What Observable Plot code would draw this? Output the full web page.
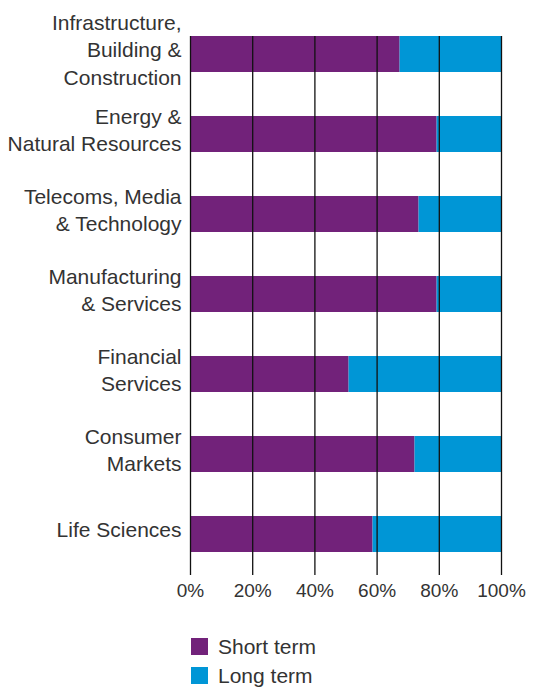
<!DOCTYPE html>
<html>
<head>
<meta charset="utf-8">
<script src="https://cdn.jsdelivr.net/npm/d3@7"></script>
<script src="https://cdn.jsdelivr.net/npm/@observablehq/plot@0.6"></script>
<style>
  body { margin: 0; background: #fff; font-family: "Liberation Sans", Arial, sans-serif; }
  #legend { padding-left: 191px; margin-top: 17px; color: #333; font-size: 21px; }
  .row { height: 29px; display: flex; align-items: center; }
  .sw { width: 17px; height: 17px; margin-right: 10px; }
</style>
</head>
<body>
<div id="chart"></div>
<div id="legend"></div>
<script>
const categories = [
  "Infrastructure,\nBuilding &\nConstruction",
  "Energy &\nNatural Resources",
  "Telecoms, Media\n& Technology",
  "Manufacturing\n& Services",
  "Financial\nServices",
  "Consumer\nMarkets",
  "Life Sciences"
];
const shortTerm = [67.4, 79.3, 73.5, 79.3, 51.0, 72.2, 58.7];
const longTerm  = [32.6, 20.7, 26.5, 20.7, 49.0, 27.8, 41.3];
const seriesNames = ["Short term", "Long term"];
const seriesColors = ["#72227A", "#0096D6"];
const xTicks = [0, 20, 40, 60, 80, 100];

const data = [];
categories.forEach((c, i) => {
  data.push({category: c, series: seriesNames[0], value: shortTerm[i]});
  data.push({category: c, series: seriesNames[1], value: longTerm[i]});
});

const chart = Plot.plot({
  width: 536,
  height: 615,
  marginLeft: 190,
  marginRight: 35,
  marginTop: 36,
  marginBottom: 40,
  style: {fontFamily: "Liberation Sans, Arial, sans-serif", color: "#333", background: "#fff"},
  x: {domain: [0, 100]},
  y: {domain: categories, range: [36, 552], paddingInner: 0.55, paddingOuter: 0},
  color: {domain: seriesNames, range: seriesColors},
  marks: [
    Plot.barX(data, Plot.stackX({y: "category", x: "value", fill: "series", order: seriesNames})),
    Plot.ruleX(xTicks, {stroke: "#111", strokeWidth: 1.3}),
    Plot.axisY({tickSize: 0, tickPadding: 9, fontSize: 21, lineHeight: 1.3, dy: -6, label: null, fill: "#333"}),
    Plot.axisX({ticks: xTicks, tickFormat: d => d + "%", tickSize: 0, tickPadding: 8, fontSize: 19, label: null, fill: "#333"})
  ]
});
document.getElementById("chart").appendChild(chart);

const legend = document.getElementById("legend");
seriesNames.forEach((name, i) => {
  const row = document.createElement("div");
  row.className = "row";
  const sw = document.createElement("div");
  sw.className = "sw";
  sw.style.background = seriesColors[i];
  const t = document.createElement("span");
  t.textContent = name;
  row.appendChild(sw);
  row.appendChild(t);
  legend.appendChild(row);
});
</script>
</body>
</html>
